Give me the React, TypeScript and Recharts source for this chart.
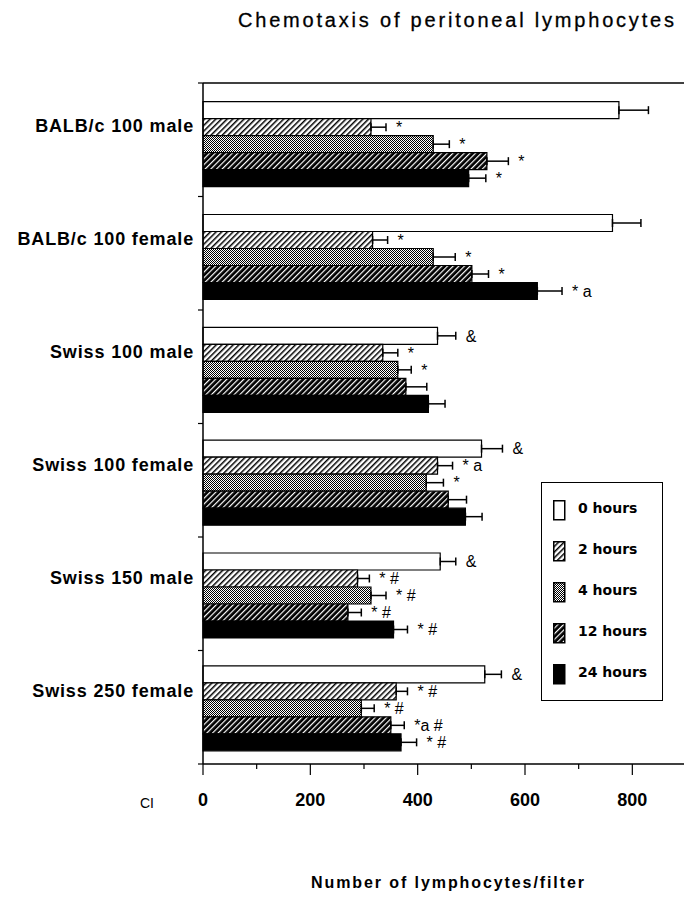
import React from "react";
import {
  BarChart,
  Bar,
  XAxis,
  YAxis,
  ErrorBar,
  LabelList,
  CartesianGrid,
  Label,
} from "recharts";

// values (lymphocytes per filter)
const categories = [
  "BALB/c 100 male",
  "BALB/c 100 female",
  "Swiss 100 male",
  "Swiss 100 female",
  "Swiss 150 male",
  "Swiss 250 female",
];
const hours0 = [775, 763, 437, 519, 442, 525];
const hours2 = [313, 316, 335, 437, 288, 360];
const hours4 = [429, 429, 363, 416, 313, 295];
const hours12 = [529, 501, 378, 457, 270, 350];
const hours24 = [495, 623, 420, 489, 355, 369];

const err0 = [55, 53, 34, 39, 29, 31];
const err2 = [28, 28, 28, 28, 22, 21];
const err4 = [30, 41, 25, 32, 28, 24];
const err12 = [40, 31, 39, 34, 25, 25];
const err24 = [32, 46, 31, 31, 26, 29];

const note0 = ["", "", "&", "&", "&", "&"];
const note2 = ["*", "*", "*", "* a", "* #", "* #"];
const note4 = ["*", "*", "*", "*", "* #", "* #"];
const note12 = ["*", "*", "", "", "* #", "*a #"];
const note24 = ["*", "* a", "", "", "* #", "* #"];

const xTicks = [0, 100, 200, 300, 400, 500, 600, 700, 800, 900];

const rows = categories.map((name, i) => ({
  name,
  h0: hours0[i], e0: [0, err0[i]], a0: note0[i],
  h2: hours2[i], e2: [0, err2[i]], a2: note2[i],
  h4: hours4[i], e4: [0, err4[i]], a4: note4[i],
  h12: hours12[i], e12: [0, err12[i]], a12: note12[i],
  h24: hours24[i], e24: [0, err24[i]], a24: note24[i],
}));

const series = [
  { id: "0", name: "0 hours", fill: "#fff" },
  { id: "2", name: "2 hours", fill: "url(#stripeLight)" },
  { id: "4", name: "4 hours", fill: "url(#dots)" },
  { id: "12", name: "12 hours", fill: "url(#stripeDark)" },
  { id: "24", name: "24 hours", fill: "#000" },
];

const W = 684;
const H = 897;
const TOP = 83;
const BOTTOM = 133;
const LEFT = 203;
const PAD_TOP = 4;
// separator ticks sit on the full-height category grid
const BAND = (H - TOP - BOTTOM) / categories.length;
const FONT = "'Liberation Sans', Arial, sans-serif";

const YTick = ({ x, y, payload, index }: any) => {
  const sepY = TOP + index * BAND;
  return (
    <g>
      <line x1={x - 5} x2={x} y1={sepY} y2={sepY} stroke="#000" strokeWidth={1.2} />
      {index === categories.length - 1 && (
        <line x1={x - 5} x2={x} y1={sepY + BAND} y2={sepY + BAND} stroke="#000" strokeWidth={1.2} />
      )}
      <text
        x={x - 9}
        y={y - 17.5}
        dy="0.36em"
        textAnchor="end"
        fontFamily={FONT}
        fontWeight="bold"
        fontSize={18}
        letterSpacing={0.85}
        fill="#000"
      >
        {payload.value}
      </text>
    </g>
  );
};

const XTick = ({ x, y, payload }: any) => {
  const major = payload.value % 200 === 0;
  return (
    <g>
      <line x1={x} x2={x} y1={y} y2={y + (major ? 11 : 5)} stroke="#000" strokeWidth={1.2} />
      {major && (
        <text
          x={x}
          y={y + 36}
          dy="0.36em"
          textAnchor="middle"
          fontFamily={FONT}
          fontWeight="bold"
          fontSize={18}
          fill="#000"
        >
          {payload.value}
        </text>
      )}
    </g>
  );
};

// significance marks written just past the end of each error bar
const noteRenderer = (id: string) => (props: any) => {
  const vb = props.viewBox || props;
  const { x, y, width, height } = vb;
  const i = props.index;
  const text = rows[i] ? (rows[i] as any)["a" + id] : props.value;
  if (!text) return null;
  const val = (rows[i] as any)["h" + id];
  const err = (rows[i] as any)["e" + id][1];
  const ex = x + width + (err * width) / val;
  return (
    <text
      x={ex + 10}
      y={y + height / 2}
      dy="0.36em"
      fontFamily={FONT}
      fontSize={16}
      fill="#000"
    >
      {text}
    </text>
  );
};

const AxisTitle = ({ viewBox }: any) => (
  <text
    x={viewBox.x + viewBox.width / 2 + 3}
    y={viewBox.y + 118}
    dy="0.36em"
    textAnchor="middle"
    fontFamily={FONT}
    fontWeight="bold"
    fontSize={16}
    textLength={273}
    lengthAdjust="spacing"
    fill="#000"
  >
    Number of lymphocytes/filter
  </text>
);

export default function App() {
  return (
    <div
      style={{
        position: "absolute",
        left: 0,
        top: 0,
        width: W,
        height: H,
        overflow: "hidden",
        background: "#fff",
        fontFamily: FONT,
      }}
    >
      <div
        style={{
          position: "absolute",
          left: 238,
          top: 8,
          fontSize: 20,
          lineHeight: "24px",
          letterSpacing: 2.8,
          whiteSpace: "nowrap",
          color: "#000",
          WebkitTextStroke: "0.3px #000",
        }}
      >
        Chemotaxis of peritoneal lymphocytes
      </div>

      <BarChart
        width={W + 4}
        height={H}
        data={rows}
        layout="vertical"
        margin={{ top: TOP, right: 2, bottom: 0, left: 0 }}
        barCategoryGap="13%"
        barGap={0}
      >
        <defs>
          <pattern id="stripeLight" width="4" height="4" patternUnits="userSpaceOnUse" patternTransform="rotate(45)">
            <rect width="4" height="4" fill="#fff" />
            <rect width="1.5" height="4" fill="#000" />
          </pattern>
          <pattern id="stripeDark" width="4" height="4" patternUnits="userSpaceOnUse" patternTransform="rotate(45)">
            <rect width="4" height="4" fill="#000" />
            <rect width="1.2" height="4" fill="#fff" />
          </pattern>
          <pattern id="dots" width="2" height="2" patternUnits="userSpaceOnUse">
            <rect width="2" height="2" fill="#fff" />
            <rect width="1" height="1" fill="#000" />
            <rect x="1" y="1" width="1" height="1" fill="#000" />
          </pattern>
        </defs>
        <CartesianGrid
          vertical={false}
          horizontalCoordinatesGenerator={(p: any) => [p.offset.top]}
          stroke="#000"
          strokeWidth={1.5}
        />
        <XAxis
          type="number"
          domain={[0, 900]}
          ticks={xTicks}
          interval={0}
          height={BOTTOM}
          tickSize={0}
          tickMargin={0}
          tickLine={false}
          tick={<XTick />}
          axisLine={{ stroke: "#000", strokeWidth: 1.5 }}
        >
          <Label content={<AxisTitle />} />
        </XAxis>
        <YAxis
          type="category"
          dataKey="name"
          width={LEFT}
          interval={0}
          padding={{ top: PAD_TOP, bottom: 0 }}
          tickSize={0}
          tickMargin={0}
          tickLine={false}
          tick={<YTick />}
          axisLine={{ stroke: "#000", strokeWidth: 1.5 }}
        />
        {series.map((s) => (
          <Bar
            key={s.id}
            dataKey={"h" + s.id}
            name={s.name}
            fill={s.fill}
            stroke="#000"
            strokeWidth={1.2}
            isAnimationActive={false}
          >
            <ErrorBar
              dataKey={"e" + s.id}
              direction="x"
              width={4}
              stroke="#000"
              strokeWidth={1.5}
              isAnimationActive={false}
            />
            <LabelList dataKey={"a" + s.id} content={noteRenderer(s.id)} />
          </Bar>
        ))}
      </BarChart>

      <div
        style={{
          position: "absolute",
          left: 140,
          top: 795,
          fontSize: 14,
          color: "#000",
        }}
      >
        CI
      </div>

      <div
        style={{
          position: "absolute",
          left: 541,
          top: 482,
          width: 120,
          height: 217,
          border: "1.5px solid #000",
          background: "#fff",
        }}
      >
        {series.map((s, i) => (
          <div
            key={s.id}
            style={{
              position: "absolute",
              left: 11,
              top: 11 + i * 41,
              display: "flex",
              alignItems: "center",
            }}
          >
            <svg width={13} height={21} style={{ marginTop: 6 }}>
              <rect x={0.75} y={0.75} width={11} height={19} fill={s.fill} stroke="#000" strokeWidth={1.5} />
            </svg>
            <span
              style={{
                marginLeft: 12,
                fontFamily: "'DejaVu Sans', sans-serif",
                fontWeight: "bold",
                fontSize: 14,
                color: "#000",
              }}
            >
              {s.name}
            </span>
          </div>
        ))}
      </div>
    </div>
  );
}
